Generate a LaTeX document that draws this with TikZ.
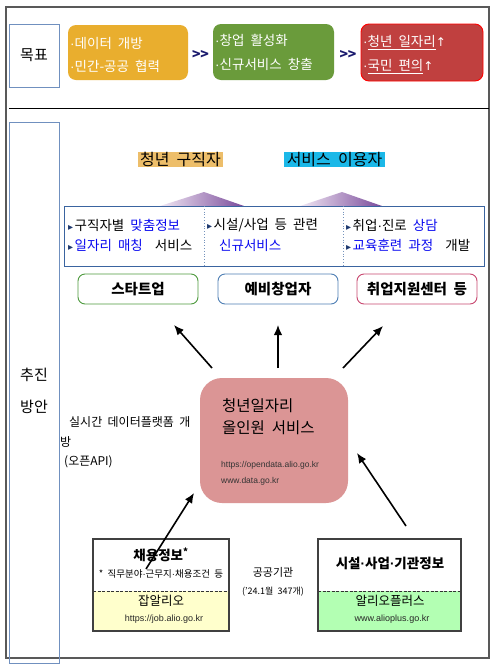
\documentclass[tikz,border=0pt]{standalone}
\usepackage{fontspec}
\setmainfont{Noto Sans CJK KR}[WordSpace=2]
\newfontfamily\lat{Liberation Sans}
\newfontfamily\sym{DejaVu Sans}
\usetikzlibrary{arrows.meta}
\definecolor{cOr}{HTML}{E9AE2E}
\definecolor{cGr}{HTML}{6A9B3B}
\definecolor{cRd}{HTML}{C0403F}
\definecolor{cHlA}{HTML}{EDBE6A}
\definecolor{cHlB}{HTML}{1BB8E8}
\definecolor{cHub}{HTML}{DB9595}
\definecolor{cYel}{HTML}{FFFFCC}
\definecolor{cLg}{HTML}{B3FFB3}
\definecolor{tblue}{HTML}{0A0AF0}
\definecolor{bnavy}{HTML}{1F3A70}
\definecolor{fBlue}{HTML}{7090BF}
\definecolor{svcB}{HTML}{3A64A0}
\definecolor{bdA}{HTML}{4E9A3E}
\definecolor{bdB}{HTML}{4F7FB5}
\definecolor{bdC}{HTML}{C84870}
\definecolor{chev}{HTML}{1A1A6E}
\definecolor{triL}{HTML}{F0E6F3}
\definecolor{triR}{HTML}{7A4B9B}
\newcommand\fsz[2]{\fontsize{#1}{#2}\selectfont}
\newcommand\bul{{\color{bnavy}\sym\fontsize{10}{10}\selectfont ▸}\hspace{1.5pt}}
\newcommand\md{{\lat ·}}
\newcommand\up{{\sym\fontsize{12}{12}\selectfont ↑}}
\begin{document}
\begin{tikzpicture}[x=1pt,y=-1pt,
  gbox/.style={rounded corners=8pt},
  gtxt/.style={anchor=west, inner sep=0pt, text=white, align=left, font=\fsz{13.5}{23.5}},
  svc/.style={anchor=west, inner sep=0pt, font=\fsz{13.5}{15}},
  obox/.style={draw, rounded corners=7pt, line width=0.9pt, minimum width=120pt, minimum height=30pt, font=\bfseries\fsz{14.5}{16}},
  bbox/.style={draw=black!75, line width=1.2pt, minimum width=136pt, minimum height=92pt},
  arr/.style={line width=1.6pt, -{Latex[length=10pt,width=8.5pt]}},
  plain/.style={inner sep=0pt}
]
\useasboundingbox (0,0) rectangle (502,670);
\fill[white] (0,0) rectangle (502,670);

% outer frame
\draw[black!65, line width=1.3pt] (6,7) rectangle (489,658);
\draw[black, line width=1pt] (9,108) -- (489,108);

% goal row
\node[draw=fBlue, line width=0.9pt, minimum width=50pt, minimum height=63pt, font=\fsz{15}{17}] (goal) at (34,55.5) {목표};
\node[gbox, fill=cOr, minimum width=120pt, minimum height=55pt] (g1) at (128,52.5) {};
\node[gbox, fill=cGr, minimum width=121pt, minimum height=56pt] (g2) at (273.5,52) {};
\node[gbox, fill=cRd, draw=red, line width=0.9pt, minimum width=122pt, minimum height=57pt] (g3) at (422,52.5) {};
\node[gtxt] (g1t) at (70,55) {\md 데이터 개방\\\md 민간-공공 협력};
\node[gtxt] (g2t) at (215,52.5) {\md 창업 활성화\\\md 신규서비스 창출};
\node[gtxt] (g3t) at (363,54.5) {\md\underline{청년 일자리}\up\\\md\underline{국민 편의}\up};
\node[plain, text=chev, font=\bfseries\fsz{14}{14}] (c1) at (200.5,55) {{>}\kern-0.5pt{>}};
\node[plain, text=chev, font=\bfseries\fsz{14}{14}] (c2) at (348,55) {{>}\kern-0.5pt{>}};

% left column
\draw[fBlue, line width=0.9pt] (9,122) rectangle (59,663);
\node[plain, font=\fsz{15}{17}] (p1) at (34,375) {추진};
\node[plain, font=\fsz{15}{17}] (p2) at (34,407) {방안};

% target groups
\node[fill=cHlA, inner sep=0pt, minimum width=85pt, minimum height=15.5pt, font=\fsz{16}{16}] (ya) at (180.5,159.5) {청년 구직자};
\node[fill=cHlB, inner sep=0pt, minimum width=101pt, minimum height=15.5pt, font=\fsz{16}{16}] (yb) at (334.5,159.5) {서비스 이용자};

% triangles
\shade[left color=triL, right color=triR] (160,206) -- (204,192) -- (244,206) -- cycle;
\shade[left color=triL, right color=triR] (300,206) -- (342,192) -- (382,206) -- cycle;

% services box
\node[draw=svcB, line width=1pt, minimum width=420pt, minimum height=60pt, fill=white] (svc) at (274,236) {};
\draw[svcB!70, dotted, line width=0.8pt] (204,206) -- (204,266);
\draw[svcB!70, dotted, line width=0.8pt] (343,206) -- (343,266);
\node[svc] (s11) at (68,225) {\bul 구직자별 \textcolor{tblue}{맞춤정보}};
\node[svc] (s12) at (68,245) {\bul \textcolor{tblue}{일자리 매칭} \ 서비스};
\node[svc] (s21) at (207,225) {\bul 시설/사업 등 관련};
\node[svc] (s22) at (219,245) {\textcolor{tblue}{신규서비스}};
\node[svc] (s31) at (346,225) {\bul 취업\md 진로 \textcolor{tblue}{상담}};
\node[svc] (s32) at (346,245) {\bul \textcolor{tblue}{교육훈련 과정} \ 개발};

% output boxes
\node[obox, draw=bdA] (t1) at (138,289) {스타트업};
\node[obox, draw=bdB] (t2) at (278,289) {예비창업자};
\node[obox, draw=bdC] (t3) at (417,289) {취업지원센터 등};

% hub
\node[fill=cHub, rounded corners=22pt, minimum width=148pt, minimum height=125pt] (hub) at (274,440.5) {};
\node[plain, anchor=west, font=\fsz{15.5}{17}] (h1) at (222,406) {청년일자리};
\node[plain, anchor=west, font=\fsz{15.5}{17}] (h2) at (222,428) {올인원 서비스};
\node[plain, anchor=west, font=\lat\fsz{8.5}{10}, text=black!80] (h3) at (221,465) {https://opendata.alio.go.kr};
\node[plain, anchor=west, font=\lat\fsz{8.5}{10}, text=black!80] (h4) at (221,481) {www.data.go.kr};

% side note
\node[plain, anchor=west, font=\fsz{12}{14}] (n1) at (69,422) {실시간 데이터플랫폼 개};
\node[plain, anchor=west, font=\fsz{12}{14}] (n2) at (60,442) {방};
\node[plain, anchor=west, font=\fsz{12}{14}] (n3) at (64,462) {(오픈API)};

% bottom boxes
\fill[cYel] (93,591) rectangle (229,631);
\fill[cLg] (318,591) rectangle (461,631);
\draw[black!80, dash pattern=on 3pt off 1.5pt, line width=0.8pt] (93,591) -- (229,591);
\draw[black!80, dash pattern=on 3pt off 1.5pt, line width=0.8pt] (318,591) -- (461,591);
\node[bbox] (b1) at (161,585) {};
\node[bbox, minimum width=143pt] (b2) at (389.5,585) {};
\node[plain, font=\bfseries\fsz{13.5}{15}] (b1a) at (161,555) {채용정보\textsuperscript{*}};
\node[plain, font=\fsz{9.5}{11}] (b1b) at (161,574) {* 직무분야\md 근무지\md 채용조건 등};
\node[plain, font=\fsz{12.5}{14}] (b1c) at (161,601) {잡알리오};
\node[plain, font=\lat\fsz{9}{10}, text=black!85] (b1d) at (164,619) {https://job.alio.go.kr};
\node[plain, font=\bfseries\fsz{13.5}{15}] (b2a) at (390,563) {시설\md 사업\md 기관정보};
\node[plain, font=\fsz{12.5}{14}] (b2c) at (390,601) {알리오플러스};
\node[plain, font=\lat\fsz{9}{10}, text=black!85] (b2d) at (392,619) {www.alioplus.go.kr};
\node[plain, font=\fsz{11}{13}] (m1) at (273,572) {공공기관};
\node[plain, font=\fsz{9}{11}] (m2) at (273,592) {('24.1월 347개)};

% arrows
\coordinate (u1s) at (212,368); \coordinate (u1e) at (174,325);
\coordinate (u2s) at (278,368); \coordinate (u2e) at (278,325);
\coordinate (u3s) at (343,368); \coordinate (u3e) at (383,326);
\coordinate (d1s) at (146,569); \coordinate (d1e) at (194,493);
\coordinate (d2s) at (406,526); \coordinate (d2e) at (357,453);
\draw[arr] (u1s) -- (u1e);
\draw[arr] (u2s) -- (u2e);
\draw[arr] (u3s) -- (u3e);
\draw[arr] (d1s) -- (d1e);
\draw[arr] (d2s) -- (d2e);
\end{tikzpicture}
\end{document}
